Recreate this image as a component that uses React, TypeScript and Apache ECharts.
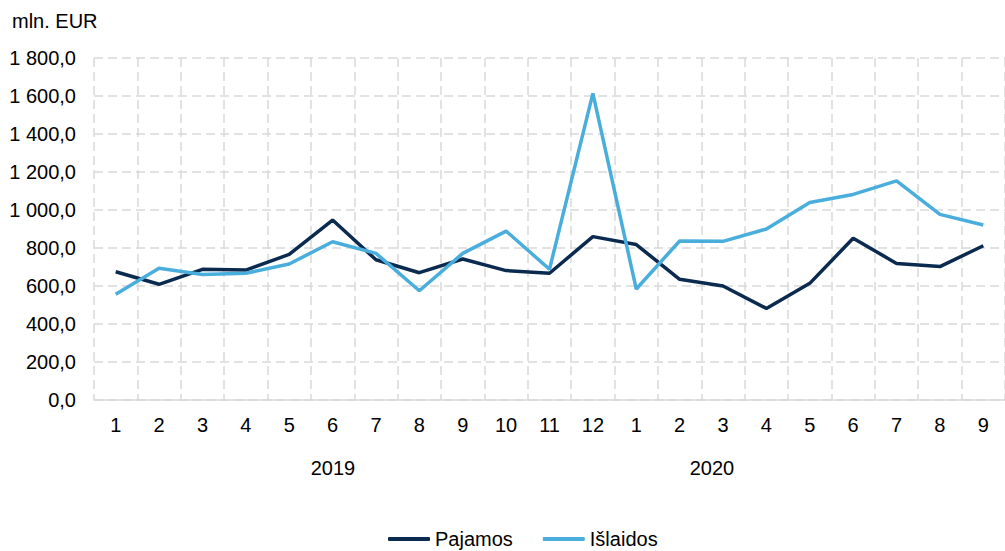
import React, { useEffect, useRef } from "react";
import * as echarts from "echarts";

// Monthly budget revenue and expenditure, mln. EUR
const months = ["1", "2", "3", "4", "5", "6", "7", "8", "9", "10", "11", "12", "1", "2", "3", "4", "5", "6", "7", "8", "9"];
const years = ["2019", "2020"];
const pajamos = [675, 609, 688, 684, 766, 947, 738, 670, 742, 681, 667, 860, 818, 635, 600, 482, 614, 851, 719, 702, 812];
const islaidos = [556, 693, 661, 667, 716, 833, 772, 575, 772, 889, 688, 1614, 584, 837, 835, 900, 1039, 1082, 1153, 977, 921];
const seriesNames = ["Pajamos", "Išlaidos"];
const unitLabel = "mln. EUR";

const FONT = "'Liberation Sans', Arial, sans-serif";
const DARK = "#0B2A50";
const LIGHT = "#4AAEDC";
const GRID = "#D9D9D9";

function fmt(v: number): string {
  const fixed = v.toFixed(1);
  const [intPart, dec] = fixed.split(".");
  const grouped = intPart.replace(/\B(?=(\d{3})+(?!\d))/g, " ");
  return `${grouped},${dec}`;
}

export default function App() {
  const ref = useRef<HTMLDivElement>(null);

  useEffect(() => {
    if (!ref.current) return;
    const chart = echarts.init(ref.current, undefined, { renderer: "svg" });
    const band = 43.75;
    chart.setOption({
      animation: false,
      textStyle: { fontFamily: FONT },
      grid: { left: 94, top: 58, width: band * months.length, height: 342, containLabel: false },
      xAxis: {
        type: "category",
        data: months,
        boundaryGap: true,
        axisLine: { show: true, lineStyle: { color: GRID, width: 1.5 } },
        axisTick: { show: false },
        axisLabel: { color: "#000", fontSize: 20, fontFamily: FONT, margin: 15, interval: 0 },
        splitLine: { show: true, lineStyle: { color: GRID, width: 1.5, type: [9, 5] } },
      },
      yAxis: {
        type: "value",
        min: 0,
        max: 1800,
        interval: 200,
        axisLine: { show: false },
        axisTick: { show: false },
        axisLabel: { color: "#000", fontSize: 20, fontFamily: FONT, margin: 18, formatter: (v: number) => fmt(v) },
        splitLine: { show: true, lineStyle: { color: GRID, width: 1.5, type: [9, 5] } },
      },
      legend: {
        data: seriesNames,
        left: 388,
        top: 529,
        padding: 0,
        itemWidth: 42,
        itemHeight: 4,
        itemGap: 30,
        icon: "roundRect",
        textStyle: { color: "#000", fontSize: 20, lineHeight: 20, fontFamily: FONT },
      },
      graphic: [
        { type: "text", left: 12, top: 11, style: { text: unitLabel, fontSize: 20, fontFamily: FONT, fill: "#000" } },
        { type: "text", x: 333, y: 468, style: { text: years[0], fontSize: 20, fontFamily: FONT, fill: "#000", align: "center", verticalAlign: "middle" } },
        { type: "text", x: 712, y: 468, style: { text: years[1], fontSize: 20, fontFamily: FONT, fill: "#000", align: "center", verticalAlign: "middle" } },
      ],
      series: [
        {
          name: seriesNames[0],
          type: "line",
          data: pajamos,
          symbol: "none",
          lineStyle: { color: DARK, width: 3.5 },
          itemStyle: { color: DARK },
        },
        {
          name: seriesNames[1],
          type: "line",
          data: islaidos,
          symbol: "none",
          lineStyle: { color: LIGHT, width: 3.5 },
          itemStyle: { color: LIGHT },
        },
      ],
    });
    return () => chart.dispose();
  }, []);

  return (
    <div
      ref={ref}
      style={{ position: "fixed", left: 0, top: 0, width: 1005, height: 551, background: "#fff" }}
    />
  );
}
